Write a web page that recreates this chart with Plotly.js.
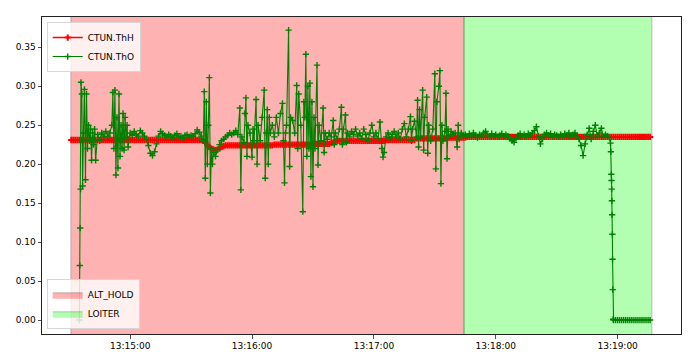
<!DOCTYPE html>
<html>
<head>
<meta charset="utf-8">
<script src="https://cdn.plot.ly/plotly-3.0.1.min.js"></script>
<style>html,body{margin:0;padding:0;background:#fff;}#chart{width:690px;height:352px;}</style>
</head>
<body>
<div id="chart"></div>
<script>
// seconds after 13:14:00
const modeNames = ["ALT_HOLD", "LOITER"];
const modeStart = [30.8, 224.4];
const modeEnd = [224.4, 316.9];
const modeColors = ["rgba(255,0,0,0.3)", "rgba(0,255,0,0.3)"];

// CTUN.ThH sampled every second starting at 13:14:31
const thhStart = 31;
const thhValues = [
0.231,0.231,0.231,0.231,0.231,0.231,0.231,0.231,0.231,0.231,
0.231,0.231,0.231,0.231,0.231,0.231,0.231,0.231,0.231,0.231,
0.231,0.231,0.231,0.231,0.231,0.231,0.231,0.231,0.231,0.231,
0.231,0.231,0.231,0.231,0.231,0.231,0.231,0.231,0.231,0.231,
0.231,0.231,0.231,0.231,0.231,0.231,0.231,0.231,0.231,0.231,
0.231,0.231,0.231,0.231,0.231,0.231,0.231,0.231,0.231,0.231,
0.231,0.231,0.231,0.231,0.231,
0.230,0.228,0.225,0.222,0.220,0.219,0.218,0.219,0.220,0.222,0.223,0.224,
0.224,0.224,0.224,0.224,0.224,0.224,0.224,0.224,0.224,0.224,
0.224,0.224,0.224,0.224,0.224,0.224,0.224,0.224,0.224,0.224,
0.224,0.224,0.224,
0.225,0.225,0.225,0.225,0.225,0.225,0.225,0.225,0.225,0.225,
0.225,0.225,0.225,0.225,0.225,0.225,0.225,0.225,0.225,0.225,
0.226,0.226,0.226,0.226,0.226,0.226,0.226,0.226,
0.227,0.228,0.229,
0.230,0.230,0.230,0.230,0.230,0.230,0.230,0.230,0.230,0.230,
0.230,0.230,0.230,0.230,0.230,0.230,0.230,0.230,0.230,0.230,
0.230,0.230,0.230,0.230,
0.231,0.231,0.231,0.231,0.231,0.231,0.231,0.231,0.231,0.231,
0.231,0.231,0.231,0.231,0.231,
0.233,0.233,0.233,0.233,0.233,0.233,0.233,0.233,0.233,0.233,
0.233,0.233,0.233,0.233,0.233,
0.234,0.234,0.234,0.234,0.234,0.234,0.234,0.234,0.234,0.234,
0.235,0.235,0.235,0.235,0.235,0.235,0.235,0.235,0.235,0.235,
0.235,0.235,0.235,0.235,0.235,0.235,0.235,0.235,0.235,0.235,
0.235,0.235,0.235,0.235,0.235,0.235,0.235,0.235,0.235,0.235,
0.235,0.235,0.235,0.235,0.235,0.235,0.235,0.235,0.235,0.235,
0.235,0.235,0.235,0.235,0.235,0.235,0.235,0.235,0.235,0.235,
0.235,0.235,0.235,0.235,0.235,0.235,0.235,0.235,0.235,0.235,
0.235,0.235,0.235,0.235,0.235,0.235,0.235,0.235,0.235,0.235,
0.235,0.235,0.235,0.235,0.235,0.235,0.235,0.235,0.235,0.235,
0.235,0.235,0.235,0.235,0.235,0.235,0.235,0.235,0.235,0.235,
0.235
];

// CTUN.ThO sample times (seconds after 13:14:00) and values
const thoTimes = [
35.0,35.2,35.4,35.6,35.8,36.2,36.6,37.0,37.5,38.0,
38.5,39.0,39.5,40.0,40.5,41.0,41.5,42.0,42.5,43.0,
44,45,46,47,48,49,50,51,51.5,52,
52.5,53,53.5,54,54.5,55,55.5,56,56.5,57,
57.5,58,58.5,59,60,61,62,63,64,65,
66,67,68,69,70,71,72,73,74,75,
76,77,78,79,80,81,82,83,84,85,
86,87,88,89,90,91,92,93,94,95,
96,96.5,97,97.5,98,98.5,99,99.5,100,100.5,
101,102,103,104,105,106,107,108,109,110,
111,112,113,114,114.5,115,116,116.5,117,117.5,
118,119,120,120.5,121,122,122.5,123,124,125,
126,126.5,127,127.5,128,128.5,129,130,131,132,
133,134,135,135.5,136,136.5,137,138,138.5,139,
140,141,142,142.5,143,144,145,145.5,146,146.5,
147,147.5,148,148.5,149,149.5,150,150.5,151,152,
152.5,153,154,155,155.5,156,157,158,159,160,
160.5,161,162,163,164,164.5,165,166,166.5,167,
168,169,170,171,172,173,174,175,176,177,
178,179,180,181,182,183,184,184.5,185,186,
187,188,189,190,191,192,193,194,195,196,
197,198,198.5,199,200,201,201.5,202,202.5,203,
204,204.5,205,206,206.5,207,208,209,210,210.5,
211,212,212.5,213,213.5,214,215,215.5,216,216.5,
217,218,219,220,221,221.5,222,223,224,
225,226,227,228,229,230,231,232,233,234,
235,236,237,238,239,240,241,242,243,244,
245,246,247,248,249,250,251,252,253,254,
255,256,257,258,259,260,261,262,263,264,
265,266,267,268,269,270,271,272,273,274,
275,276,277,278,279,280,281,282,283,284,
285,286,287,288,289,290,291,292,293,294,
295,296,
296.5,296.7,296.9,297.0,297.1,297.2,297.3,297.4,297.5,297.6,297.8,
298,299,300,301,302,303,304,305,306,307,
308,309,310,311,312,313,314,315,316
];
const thoValues = [
0.000,0.070,0.118,0.168,0.305,0.290,0.172,0.240,0.296,0.180,
0.290,0.220,0.250,0.230,0.245,0.205,0.240,0.225,0.245,0.205,
0.238,0.230,0.240,0.235,0.242,0.236,0.240,0.250,0.292,0.220,
0.295,0.186,0.260,0.195,0.290,0.210,0.250,0.220,0.265,0.218,
0.260,0.235,0.250,0.222,0.240,0.237,0.242,0.238,0.236,0.243,
0.240,0.236,0.232,0.224,0.214,0.211,0.216,0.226,0.236,0.242,
0.239,0.237,0.235,0.238,0.236,0.234,0.237,0.239,0.235,0.236,
0.233,0.237,0.238,0.235,0.237,0.236,0.239,0.244,0.241,0.236,
0.230,0.293,0.182,0.280,0.200,0.250,0.311,0.163,0.220,0.200,
0.215,0.210,0.218,0.225,0.230,0.232,0.235,0.237,0.240,0.238,
0.240,0.243,0.238,0.272,0.167,0.235,0.228,0.265,0.285,0.210,
0.250,0.240,0.209,0.245,0.230,0.283,0.200,0.250,0.230,0.260,
0.295,0.182,0.240,0.270,0.200,0.260,0.240,0.250,0.235,0.260,
0.240,0.265,0.278,0.230,0.176,0.240,0.250,0.372,0.197,0.260,
0.256,0.240,0.301,0.220,0.290,0.250,0.139,0.280,0.260,0.341,
0.210,0.300,0.220,0.304,0.184,0.280,0.171,0.260,0.220,0.327,
0.199,0.250,0.230,0.272,0.215,0.240,0.232,0.240,0.235,0.256,
0.225,0.240,0.232,0.245,0.273,0.225,0.245,0.263,0.228,0.240,
0.235,0.242,0.238,0.245,0.236,0.240,0.233,0.245,0.238,0.230,
0.240,0.250,0.235,0.240,0.232,0.254,0.220,0.209,0.215,0.235,
0.240,0.232,0.238,0.242,0.235,0.240,0.232,0.245,0.252,0.235,
0.245,0.261,0.230,0.245,0.255,0.235,0.282,0.222,0.270,0.235,
0.295,0.218,0.260,0.286,0.214,0.250,0.230,0.245,0.316,0.194,
0.280,0.300,0.320,0.175,0.250,0.230,0.242,0.291,0.207,0.245,
0.235,0.242,0.238,0.240,0.222,0.250,0.232,0.240,0.236,
0.238,0.235,0.239,0.236,0.240,0.237,0.234,0.238,0.236,0.240,
0.242,0.237,0.235,0.239,0.236,0.238,0.235,0.237,0.239,0.236,
0.238,0.236,0.233,0.230,0.228,0.233,0.237,0.239,0.236,0.238,
0.235,0.239,0.237,0.240,0.243,0.248,0.236,0.226,0.232,0.238,
0.240,0.237,0.239,0.236,0.238,0.237,0.235,0.238,0.236,0.239,
0.237,0.240,0.236,0.238,0.240,0.236,0.232,0.224,0.211,0.226,
0.238,0.246,0.232,0.242,0.250,0.236,0.240,0.246,0.235,0.238,
0.236,0.234,
0.227,0.216,0.187,0.179,0.168,0.153,0.135,0.110,0.078,0.039,0.001,
0.000,0.000,0.000,0.000,0.000,0.000,0.000,0.000,0.000,0.000,
0.000,0.000,0.000,0.000,0.000,0.000,0.000,0.000,0.000
];

const xRange = [16.6, 331.2];
const yRange = [-0.0179, 0.3888];
const firstTick = 60;

function ts(s) {
  const m = 14 + Math.floor(s / 60);
  const sec = s - (m - 14) * 60;
  return "2024-01-01 13:" + String(m).padStart(2, "0") + ":" + sec.toFixed(2).padStart(5, "0");
}

const traces = [];
modeNames.forEach((name, i) => {
  traces.push({
    type: "scatter", mode: "lines", name: name, legend: "legend2",
    x: [ts(modeStart[i]), ts(modeStart[i]), ts(modeEnd[i]), ts(modeEnd[i]), ts(modeStart[i])],
    y: [-1, 1, 1, -1, -1],
    fill: "toself", fillcolor: modeColors[i],
    line: { color: "rgba(0,0,0,0.22)", width: 1 },
    hoverinfo: "skip"
  });
});

traces.push({
  type: "scatter", mode: "lines+markers", name: "CTUN.ThH", legend: "legend",
  x: thhValues.map((v, i) => ts(thhStart + i)), y: thhValues,
  line: { color: "#ff0000", width: 1.6 },
  marker: { symbol: "cross-thin", size: 4.5, color: "#ff0000", line: { color: "#ff0000", width: 2 } }
});
traces.push({
  type: "scatter", mode: "lines+markers", name: "CTUN.ThO", legend: "legend",
  x: thoTimes.map(ts), y: thoValues,
  line: { color: "#008000", width: 1.1 },
  marker: { symbol: "cross-thin", size: 4.5, color: "#008000", line: { color: "#008000", width: 1.4 } }
});

const axisCommon = {
  showgrid: false, zeroline: false, showline: true, mirror: true,
  linecolor: "#222", linewidth: 1, ticks: "outside", ticklen: 3.5,
  tickwidth: 0.8, tickcolor: "#222", tickfont: { size: 9, color: "#000" }
};

const layout = {
  width: 690, height: 352,
  margin: { l: 42, r: 9, t: 17, b: 18, pad: 0 },
  paper_bgcolor: "#fff", plot_bgcolor: "#fff",
  font: { family: "DejaVu Sans, sans-serif", size: 9, color: "#000" },
  xaxis: Object.assign({}, axisCommon, {
    type: "date", range: [ts(xRange[0]), ts(xRange[1])],
    tickformat: "%H:%M:%S", tick0: ts(firstTick), dtick: 60000
  }),
  yaxis: Object.assign({}, axisCommon, {
    range: yRange, dtick: 0.05, tick0: 0, tickformat: ".2f"
  }),
  legend: {
    x: 0.0074, y: 0.984, xanchor: "left", yanchor: "top",
    bgcolor: "rgba(255,255,255,0.8)", bordercolor: "#d6d6d6", borderwidth: 1,
    font: { size: 9, color: "#000" }, itemwidth: 30, tracegroupgap: 0
  },
  legend2: {
    x: 0.0074, y: 0.0148, xanchor: "left", yanchor: "bottom",
    bgcolor: "rgba(255,255,255,0.8)", bordercolor: "#d6d6d6", borderwidth: 1,
    font: { size: 9, color: "#000" }, itemwidth: 30, tracegroupgap: 0
  },
  showlegend: true
};

Plotly.newPlot("chart", traces, layout, { displayModeBar: false, staticPlot: true });
</script>
</body>
</html>
